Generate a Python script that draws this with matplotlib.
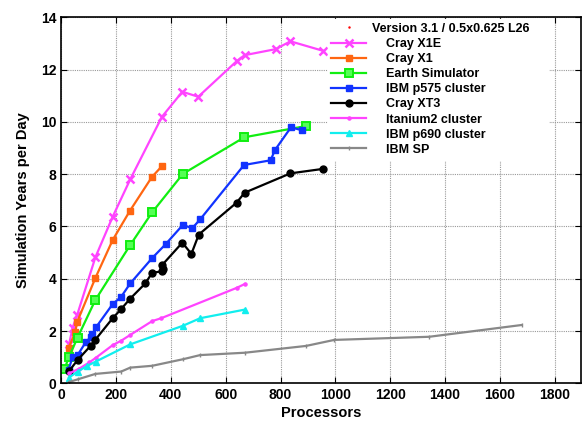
import matplotlib
matplotlib.use("Agg")
import matplotlib.pyplot as plt
from matplotlib.lines import Line2D

plt.rcParams['font.family'] = ['Liberation Sans', 'DejaVu Sans']
plt.rcParams['font.weight'] = 'bold'

# data
x1e_p = [29, 42, 59, 125, 188, 252, 368, 442, 500, 641, 669, 782, 836, 954]
x1e_y = [1.49, 2.13, 2.63, 4.82, 6.37, 7.8, 10.2, 11.15, 10.96, 12.33, 12.55, 12.78, 13.08, 12.72]

x1_p = [27, 51, 59, 125, 188, 251, 331, 368]
x1_y = [1.34, 1.95, 2.36, 4.03, 5.48, 6.6, 7.89, 8.31]

es_p = [12, 29, 60, 125, 252, 332, 444, 668, 893]
es_y = [0.54, 1.02, 1.75, 3.19, 5.29, 6.54, 8.01, 9.41, 9.84]

p575_p = [27, 42, 60, 91, 108, 114, 127, 188, 219, 252, 332, 381, 444, 478, 507, 667, 764, 779, 838, 878]
p575_y = [0.51, 1.02, 1.08, 1.59, 1.76, 1.87, 2.14, 3.03, 3.31, 3.82, 4.79, 5.32, 6.06, 5.93, 6.27, 8.35, 8.53, 8.91, 9.79, 9.68]

xt3_p = [29, 60, 108, 125, 188, 219, 252, 307, 332, 367, 372, 368, 442, 475, 502, 640, 669, 836, 954]
xt3_y = [0.47, 0.89, 1.44, 1.67, 2.49, 2.84, 3.24, 3.82, 4.23, 4.28, 4.37, 4.52, 5.38, 4.95, 5.69, 6.91, 7.29, 8.03, 8.2]

ita_p = [29, 64, 103, 127, 188, 219, 252, 332, 365, 640, 670]
ita_y = [0.38, 0.55, 0.8, 0.98, 1.46, 1.63, 1.85, 2.38, 2.49, 3.65, 3.8]

p690_p = [29, 60, 96, 126, 252, 444, 507, 670]
p690_y = [0.22, 0.45, 0.67, 0.83, 1.49, 2.2, 2.49, 2.82]

sp_p = [29, 60, 125, 219, 252, 332, 444, 507, 670, 893, 996, 1342, 1679]
sp_y = [0.05, 0.15, 0.36, 0.45, 0.6, 0.67, 0.92, 1.08, 1.17, 1.43, 1.66, 1.78, 2.23]

fig = plt.figure(figsize=(5.82, 4.21), dpi=100)
ax = fig.add_axes([0.105, 0.0895, 0.893, 0.8695])

lw = 1.6
ax.plot(x1e_p, x1e_y, color='#ff44ff', lw=lw, marker='x', ms=5.5, mew=1.8, label='Cray X1E')
ax.plot(x1_p, x1_y, color='#ff6611', lw=lw, marker='s', ms=4, label='Cray X1')
ax.plot(es_p, es_y, color='#11ee11', lw=lw, marker='s', ms=5.5, mfc='#55ff55', mew=1.4, label='Earth Simulator')
ax.plot(p575_p, p575_y, color='#1133ff', lw=lw, marker='s', ms=4, label='IBM p575 cluster')
ax.plot(xt3_p, xt3_y, color='black', lw=lw, marker='o', ms=5, label='Cray XT3')
ax.plot(ita_p, ita_y, color='#ff44ff', lw=lw, marker='.', ms=4.5, label='Itanium2 cluster')
ax.plot(p690_p, p690_y, color='#11eeee', lw=lw, marker='^', ms=5, label='IBM p690 cluster')
ax.plot(sp_p, sp_y, color='#888888', lw=lw, marker='|', ms=3, label='IBM SP')

ax.set_xlim(0, 1895)
ax.set_ylim(0, 14)
ax.set_xticks(range(0, 1801, 200))
ax.set_yticks(range(0, 15, 2))
ax.grid(True, color='#999999', linestyle=(0, (1, 1)), lw=0.8)
ax.tick_params(direction='in', top=True, right=True, labelsize=10, length=4)
for s in ax.spines.values():
    s.set_linewidth(1.2)
ax.set_xlabel('Processors', fontsize=10.5, fontweight='bold', labelpad=3)
ax.set_ylabel('Simulation Years per Day', fontsize=10.5, fontweight='bold', labelpad=8)

handles, labels = ax.get_legend_handles_labels()
head = Line2D([], [], ls='none', marker='.', ms=1.5, color='red')
leg = ax.legend([head] + handles, ['Version 3.1 / 0.5x0.625 L26'] + labels,
                loc='upper left', bbox_to_anchor=(0.513, 0.995), fontsize=9,
                frameon=True, framealpha=1, edgecolor='white', fancybox=False,
                handlelength=2.8, handletextpad=1.6, labelspacing=0.25,
                borderpad=0.3, borderaxespad=0)
leg.get_texts()[0].set_x(-14)

fig.savefig('out.png', dpi=100)
